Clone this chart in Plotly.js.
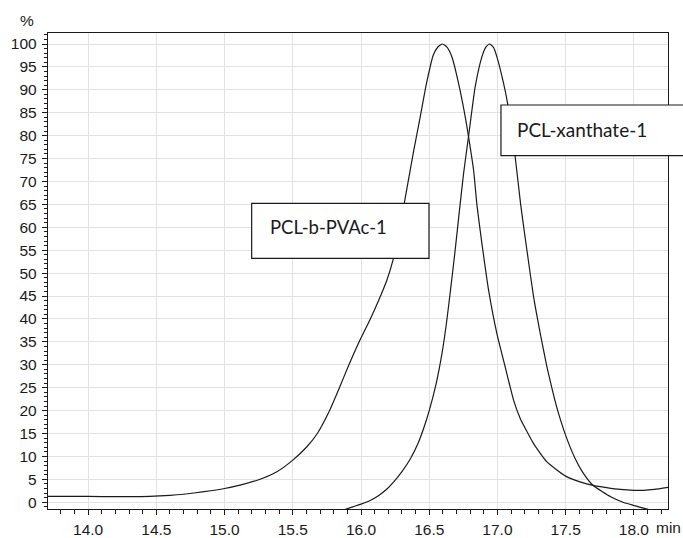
<!DOCTYPE html>
<html>
<head>
<meta charset="utf-8">
<script src="https://cdn.plot.ly/plotly-3.0.1.min.js"></script>
<style>html,body{margin:0;padding:0;background:#fff;}#chart{width:683px;height:538px;}</style>
</head>
<body>
<div id="chart"></div>
<script>
// PCL-b-PVAc-1 (left peak)
const pvacTime = [13.70, 13.90, 14.10, 14.30, 14.45, 14.60, 14.70, 14.85, 15.00, 15.12, 15.24, 15.38, 15.50, 15.60, 15.68, 15.76, 15.835, 15.91, 15.98, 16.07, 16.14, 16.19, 16.234, 16.28, 16.33, 16.385, 16.434, 16.48, 16.53, 16.565, 16.598, 16.63, 16.666, 16.715, 16.764, 16.788, 16.825, 16.85, 16.886, 16.935, 16.996, 17.057, 17.118, 17.167, 17.265, 17.363, 17.50, 17.60, 17.70, 17.80, 17.90, 18.00, 18.07, 18.15, 18.26];
const pvacSignal = [1.30, 1.28, 1.25, 1.22, 1.28, 1.5, 1.75, 2.3, 3.0, 3.8, 4.8, 6.6, 9.2, 12.0, 15.0, 19.4, 24.5, 29.9, 34.6, 40.1, 44.8, 48.5, 52.8, 59.0, 67.4, 76.5, 84.1, 91.4, 97.6, 99.4, 100, 99.3, 97.2, 91.4, 84.1, 79.8, 72.5, 64.8, 56.5, 46.3, 36.8, 29.5, 22.3, 18.3, 12.8, 8.8, 5.7, 4.5, 3.7, 3.2, 2.8, 2.6, 2.6, 2.8, 3.3];

// PCL-xanthate-1 (right peak)
const xanTime = [15.86, 15.884, 15.94, 16.00, 16.067, 16.13, 16.19, 16.238, 16.30, 16.36, 16.42, 16.46, 16.50, 16.55, 16.593, 16.625, 16.654, 16.69, 16.722, 16.752, 16.788, 16.837, 16.886, 16.915, 16.942, 16.97, 16.996, 17.045, 17.074, 17.13, 17.17, 17.216, 17.265, 17.314, 17.363, 17.40, 17.436, 17.50, 17.57, 17.63, 17.70, 17.83, 17.92, 18.00, 18.11, 18.20];
const xanSignal = [-2.0, -1.6, -1.0, -0.4, 0.4, 1.5, 2.9, 4.4, 6.7, 9.4, 13.0, 16.2, 20.0, 25.8, 32.4, 38.8, 45.8, 55.0, 63.8, 71.8, 79.8, 90.7, 97.2, 99.3, 100, 99.3, 97.2, 91.4, 87.1, 75.4, 65.0, 55.0, 44.8, 36.8, 29.5, 24.8, 20.6, 14.6, 9.5, 6.3, 3.7, 1.2, 0.0, -0.7, -1.6, -2.0];

const labels = ["PCL-b-PVAc-1", "PCL-xanthate-1"];
const xUnit = "min";
const yUnit = "%";

const lineStyle = {color: '#1a1a1a', width: 1.2, shape: 'spline', smoothing: 0.5};

const traces = [
  {x: pvacTime, y: pvacSignal, mode: 'lines', line: lineStyle, name: labels[0], hoverinfo: 'none'},
  {x: xanTime, y: xanSignal, mode: 'lines', line: lineStyle, name: labels[1], hoverinfo: 'none'}
];

const tickFont = {family: '"Liberation Sans", Arial, Helvetica, sans-serif', size: 15.5, color: '#1a1a1a'};
const boxFont = {family: 'Lato, "Open Sans", sans-serif', size: 18.5, color: '#1a1a1a'};

const layout = {
  width: 683, height: 538,
  margin: {l: 48, r: 15, t: 33, b: 29, pad: 0},
  paper_bgcolor: '#fff', plot_bgcolor: '#fff',
  showlegend: false,
  xaxis: {
    range: [13.706, 18.25], tick0: 14, dtick: 0.5, tickformat: '.1f',
    ticks: 'outside', ticklen: 5, tickwidth: 1, tickcolor: '#1a1a1a',
    ticklabelstandoff: 1,
    showline: true, linecolor: '#1a1a1a', linewidth: 1.2, mirror: true,
    showgrid: true, gridcolor: '#e2e2e2', gridwidth: 1, zeroline: false,
    tickfont: tickFont,
    minor: {dtick: 0.1, ticks: 'outside', ticklen: 4, tickcolor: '#1a1a1a', showgrid: false}
  },
  yaxis: {
    range: [-1.47, 102.4], tick0: 0, dtick: 5,
    ticks: 'outside', ticklen: 5, tickwidth: 1, tickcolor: '#1a1a1a',
    ticklabelstandoff: 2,
    showline: true, linecolor: '#1a1a1a', linewidth: 1.2, mirror: true,
    showgrid: true, gridcolor: '#e2e2e2', gridwidth: 1, zeroline: false,
    tickfont: tickFont,
    minor: {dtick: 1, ticks: 'outside', ticklen: 3, tickcolor: '#1a1a1a', showgrid: false}
  },
  shapes: [
    {type: 'rect', xref: 'paper', yref: 'paper', x0: 0.3285, x1: 0.6145, y0: 0.5267, y1: 0.6422,
     line: {color: '#1a1a1a', width: 1.2}, fillcolor: '#fff', layer: 'above'},
    {type: 'rect', xref: 'paper', yref: 'paper', x0: 0.7306, x1: 1.1, y0: 0.7422, y1: 0.8487,
     line: {color: '#1a1a1a', width: 1.2}, fillcolor: '#fff', layer: 'above'}
  ],
  annotations: [
    {text: labels[0], xref: 'paper', yref: 'paper', x: 0.355, y: 0.5914, xanchor: 'left', yanchor: 'middle', showarrow: false, font: boxFont},
    {text: labels[1], xref: 'paper', yref: 'paper', x: 0.754, y: 0.7966, xanchor: 'left', yanchor: 'middle', showarrow: false, font: {family: boxFont.family, size: 19, color: boxFont.color}},
    {text: yUnit, xref: 'paper', yref: 'paper', x: -0.034, y: 1, xanchor: 'center', yanchor: 'bottom', yshift: 2, showarrow: false, font: tickFont},
    {text: xUnit, xref: 'paper', yref: 'paper', x: 0.978, y: 0, xanchor: 'left', yanchor: 'top', yshift: -8, showarrow: false, font: tickFont}
  ]
};

Plotly.newPlot('chart', traces, layout, {staticPlot: true, displayModeBar: false});
</script>
</body>
</html>
